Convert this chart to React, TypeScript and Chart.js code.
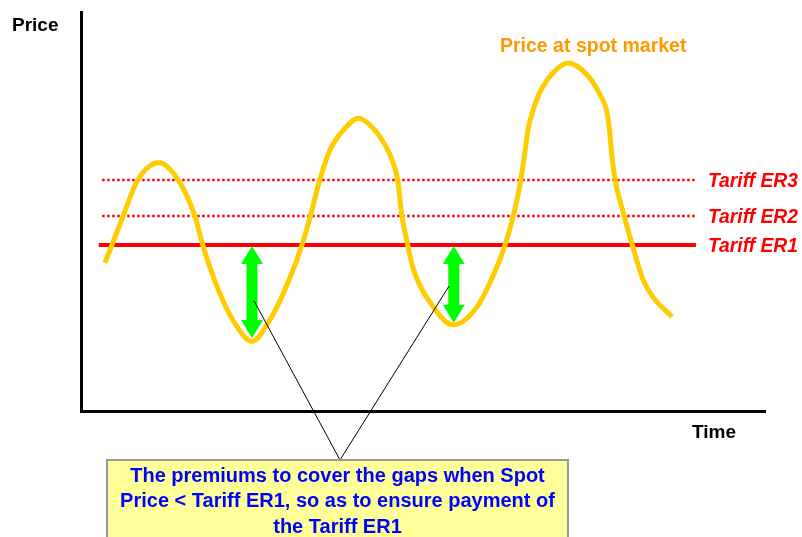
import React, { useEffect, useRef } from 'react';
import { Chart, registerables } from 'chart.js';

Chart.register(...registerables);

// ---- Data (time 0..100, price 0..100) ----
const spotTime = [
  3.5, 6.1, 8.3, 11.4, 14.2, 16.7, 17.8, 19.9, 22.2, 25.0, 27.6, 30.6, 32.3, 33.5, 34.9, 36.4,
  38.6, 40.6, 42.7, 44.7, 45.6, 46.3, 46.9, 47.7, 48.5, 51.5, 54.4, 57.9, 60.8, 62.0, 63.2, 64.3,
  64.9, 65.4, 66.1, 67.1, 69.0, 71.2, 74.0, 75.9, 76.9, 77.3, 77.6, 78.1, 79.4, 80.6, 82.2, 83.6,
  86.4,
];
const spotPrice = [
  37.1, 48.6, 57.9, 62.2, 57.9, 48.6, 41.6, 31.1, 22.8, 17.5, 22.8, 33.6, 41.6, 48.6, 57.9, 65.4,
  70.9, 73.4, 70.9, 65.9, 62.4, 57.9, 49.1, 42.1, 36.1, 26.1, 21.6, 26.1, 36.1, 41.6, 48.9, 57.9,
  64.9, 70.9, 75.4, 79.9, 84.7, 87.2, 84.2, 79.2, 74.9, 69.9, 64.2, 57.9, 48.9, 41.6, 32.8, 28.6,
  23.6,
];
const tariffNames = ['Tariff ER1', 'Tariff ER2', 'Tariff ER3'];
const tariffValues = [41.6, 48.9, 57.9];
const tariffStart = [2.6, 3.1, 3.1];
const tariffEnd = [89.9, 89.9, 89.9];
const gapTime = [25.0, 54.5];
const gapLow = [18.3, 22.1];
const pointerTime = [25.3, 53.8];
const pointerPrice = [27.6, 31.3];
const spotLabel = 'Price at spot market';
const yTitle = 'Price';
const xTitle = 'Time';
const noteLines = [
  'The premiums to cover the gaps when Spot',
  'Price < Tariff ER1, so as to ensure payment of',
  'the Tariff ER1',
];

const FONT = '"Liberation Sans", Arial, Helvetica, sans-serif';
const BOX = { left: 107, top: 460, right: 568, bottom: 545 };

const annotations = {
  id: 'annotations',
  afterDatasetsDraw(chart: any) {
    const { ctx, scales } = chart;
    const x = scales.x;
    const y = scales.y;
    ctx.save();
    // green double arrows
    ctx.fillStyle = '#00FF00';
    const hw = 11;
    const hl = 18;
    const sw = 5.5;
    gapTime.forEach((t, i) => {
      const cx = x.getPixelForValue(t);
      const top = y.getPixelForValue(tariffValues[0]) + 1;
      const bot = y.getPixelForValue(gapLow[i]);
      ctx.beginPath();
      ctx.moveTo(cx, top);
      ctx.lineTo(cx + hw, top + hl);
      ctx.lineTo(cx + sw, top + hl);
      ctx.lineTo(cx + sw, bot - hl);
      ctx.lineTo(cx + hw, bot - hl);
      ctx.lineTo(cx, bot);
      ctx.lineTo(cx - hw, bot - hl);
      ctx.lineTo(cx - sw, bot - hl);
      ctx.lineTo(cx - sw, top + hl);
      ctx.lineTo(cx - hw, top + hl);
      ctx.closePath();
      ctx.fill();
    });
    // connectors to the note
    ctx.strokeStyle = '#000000';
    ctx.lineWidth = 1;
    const ex = (BOX.left + BOX.right) / 2 + 2.5;
    const ey = BOX.top;
    pointerTime.forEach((t, i) => {
      ctx.beginPath();
      ctx.moveTo(x.getPixelForValue(t), y.getPixelForValue(pointerPrice[i]));
      ctx.lineTo(ex, ey);
      ctx.stroke();
    });
    ctx.restore();
  },
  afterDraw(chart: any) {
    const { ctx, scales } = chart;
    const y = scales.y;
    ctx.save();
    ctx.textBaseline = 'middle';
    // axis titles
    ctx.font = `bold 19px ${FONT}`;
    ctx.fillStyle = '#000000';
    ctx.textAlign = 'left';
    ctx.fillText(yTitle, 12, 26);
    ctx.fillText(xTitle, 692, 433);
    // spot label
    ctx.font = `bold 19.5px ${FONT}`;
    ctx.fillStyle = '#FF9900';
    ctx.fillText(spotLabel, 500, 47);
    // tariff labels
    ctx.font = `italic bold 19.3px ${FONT}`;
    ctx.fillStyle = '#FF0000';
    tariffNames.forEach((n, i) => {
      ctx.fillText(n, 708, y.getPixelForValue(tariffValues[i]) + 2);
    });
    // note box
    ctx.fillStyle = '#FFFF99';
    ctx.fillRect(BOX.left, BOX.top, BOX.right - BOX.left, BOX.bottom - BOX.top);
    ctx.strokeStyle = '#999999';
    ctx.lineWidth = 2;
    ctx.strokeRect(BOX.left, BOX.top, BOX.right - BOX.left, BOX.bottom - BOX.top);
    ctx.font = `bold 20px ${FONT}`;
    ctx.fillStyle = '#0000FF';
    ctx.textAlign = 'center';
    const cx = (BOX.left + BOX.right) / 2;
    noteLines.forEach((l, i) => {
      ctx.fillText(l, cx, 476 + i * 25.5);
    });
    ctx.restore();
  },
};

export default function App() {
  const ref = useRef<HTMLCanvasElement | null>(null);
  useEffect(() => {
    if (!ref.current) return;
    const tariffSets = tariffValues.map((v, i) => ({
      label: tariffNames[i],
      data: [
        { x: tariffStart[i], y: v },
        { x: tariffEnd[i], y: v },
      ],
      borderColor: '#FF0000',
      borderWidth: i === 0 ? 4 : 2.5,
      borderDash: i === 0 ? [] : [2.5, 2.5],
      pointRadius: 0,
      tension: 0,
    }));
    const chart = new Chart(ref.current, {
      type: 'line',
      data: {
        datasets: [
          {
            label: spotLabel,
            data: spotTime.map((t, i) => ({ x: t, y: spotPrice[i] })),
            borderColor: '#FFCC00',
            borderWidth: 5,
            pointRadius: 0,
            cubicInterpolationMode: 'monotone',
            borderCapStyle: 'butt',
          } as any,
          ...tariffSets,
        ],
      },
      options: {
        animation: false,
        responsive: false,
        devicePixelRatio: 1,
        events: [],
        layout: { padding: { left: 81, right: 37, top: 12, bottom: 126 } },
        plugins: { legend: { display: false }, tooltip: { enabled: false } },
        scales: {
          x: {
            type: 'linear',
            min: 0,
            max: 100,
            grid: { display: false, drawTicks: false },
            ticks: { display: false },
            border: { display: true, color: '#000000', width: 3 },
          },
          y: {
            type: 'linear',
            min: 0,
            max: 100,
            grid: { display: false, drawTicks: false },
            ticks: { display: false },
            border: { display: true, color: '#000000', width: 3 },
          },
        },
      },
      plugins: [annotations],
    });
    return () => chart.destroy();
  }, []);
  return (
    <div style={{ position: 'absolute', left: 0, top: 0, width: 802, height: 537, background: '#ffffff' }}>
      <canvas ref={ref} width={802} height={537} style={{ display: 'block' }} />
    </div>
  );
}
